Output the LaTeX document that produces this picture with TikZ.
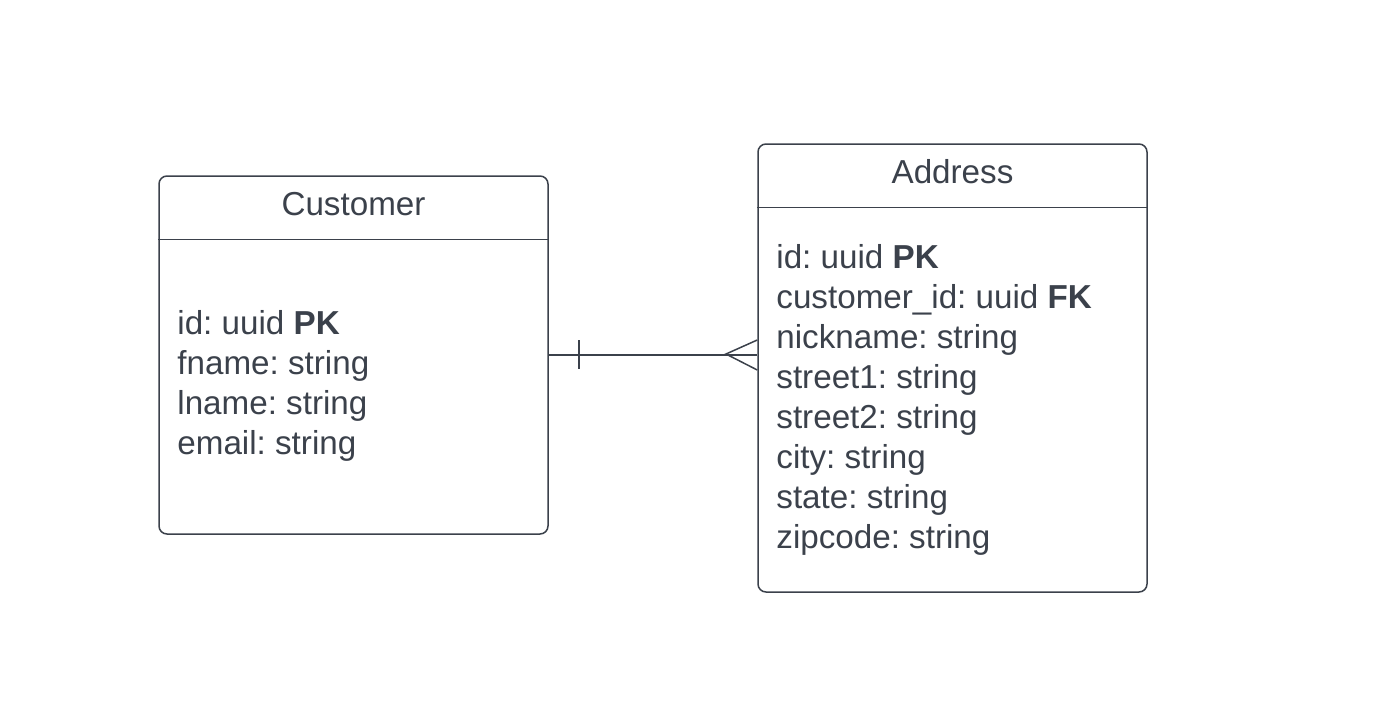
\documentclass[tikz,border=0pt]{standalone}
\usepackage{fontspec}
\setmainfont{Liberation Sans}
\usetikzlibrary{calc}
\definecolor{ink}{HTML}{3B414B}
\frenchspacing
\begin{document}
\begin{tikzpicture}[x=0.5pt,y=-0.5pt,
    entity/.style={draw=ink,line width=0.75pt,rounded corners=4pt,minimum width=194.5pt,inner sep=0pt},
    title/.style={text=ink,font=\fontsize{16.6}{20}\selectfont,anchor=base,inner sep=0pt},
    field/.style={text=ink,font=\fontsize{16.6}{20}\selectfont,anchor=base west,inner sep=0pt},
    link/.style={draw=ink,line width=0.75pt}]
    \useasboundingbox (0,0) rectangle (1376,728);
    % entities
    \node[entity,minimum height=179pt] (customer) at (353.5,355) {};
    \node[entity,minimum height=224pt] (address) at (952.5,368) {};
    \draw[link] ($(customer.north west)+(0,-32pt)$) -- ($(customer.north east)+(0,-32pt)$);
    \draw[link] ($(address.north west)+(0,-32pt)$) -- ($(address.north east)+(0,-32pt)$);
    \node[title] (customer title) at (353.5,215) {Customer};
    \node[title] (address title) at (952.5,183) {Address};
    % fields
    \foreach \f [count=\i] in {id: uuid \textbf{PK},fname: string,lname: string,email: string}
        \node[field] (cf\i) at (177,{334+40*(\i-1)}) {\f};
    \foreach \f [count=\i] in {id: uuid \textbf{PK},customer\_id: uuid \textbf{FK},nickname: string,street1: string,street2: string,city: string,state: string,zipcode: string}
        \node[field] (af\i) at (776,{268+40*(\i-1)}) {\f};
    % relation: one to many
    \coordinate (one) at (579,354);
    \coordinate (many) at (726,354);
    \draw[link] (customer.east) -- (address.west |- customer.east);
    \draw[link] ($(one)+(0,-14)$) -- ($(one)+(0,15)$);
    \draw[link] ($(address.west |- many)+(0,-14)$) -- (many) -- ($(address.west |- many)+(0,16)$);
\end{tikzpicture}
\end{document}
